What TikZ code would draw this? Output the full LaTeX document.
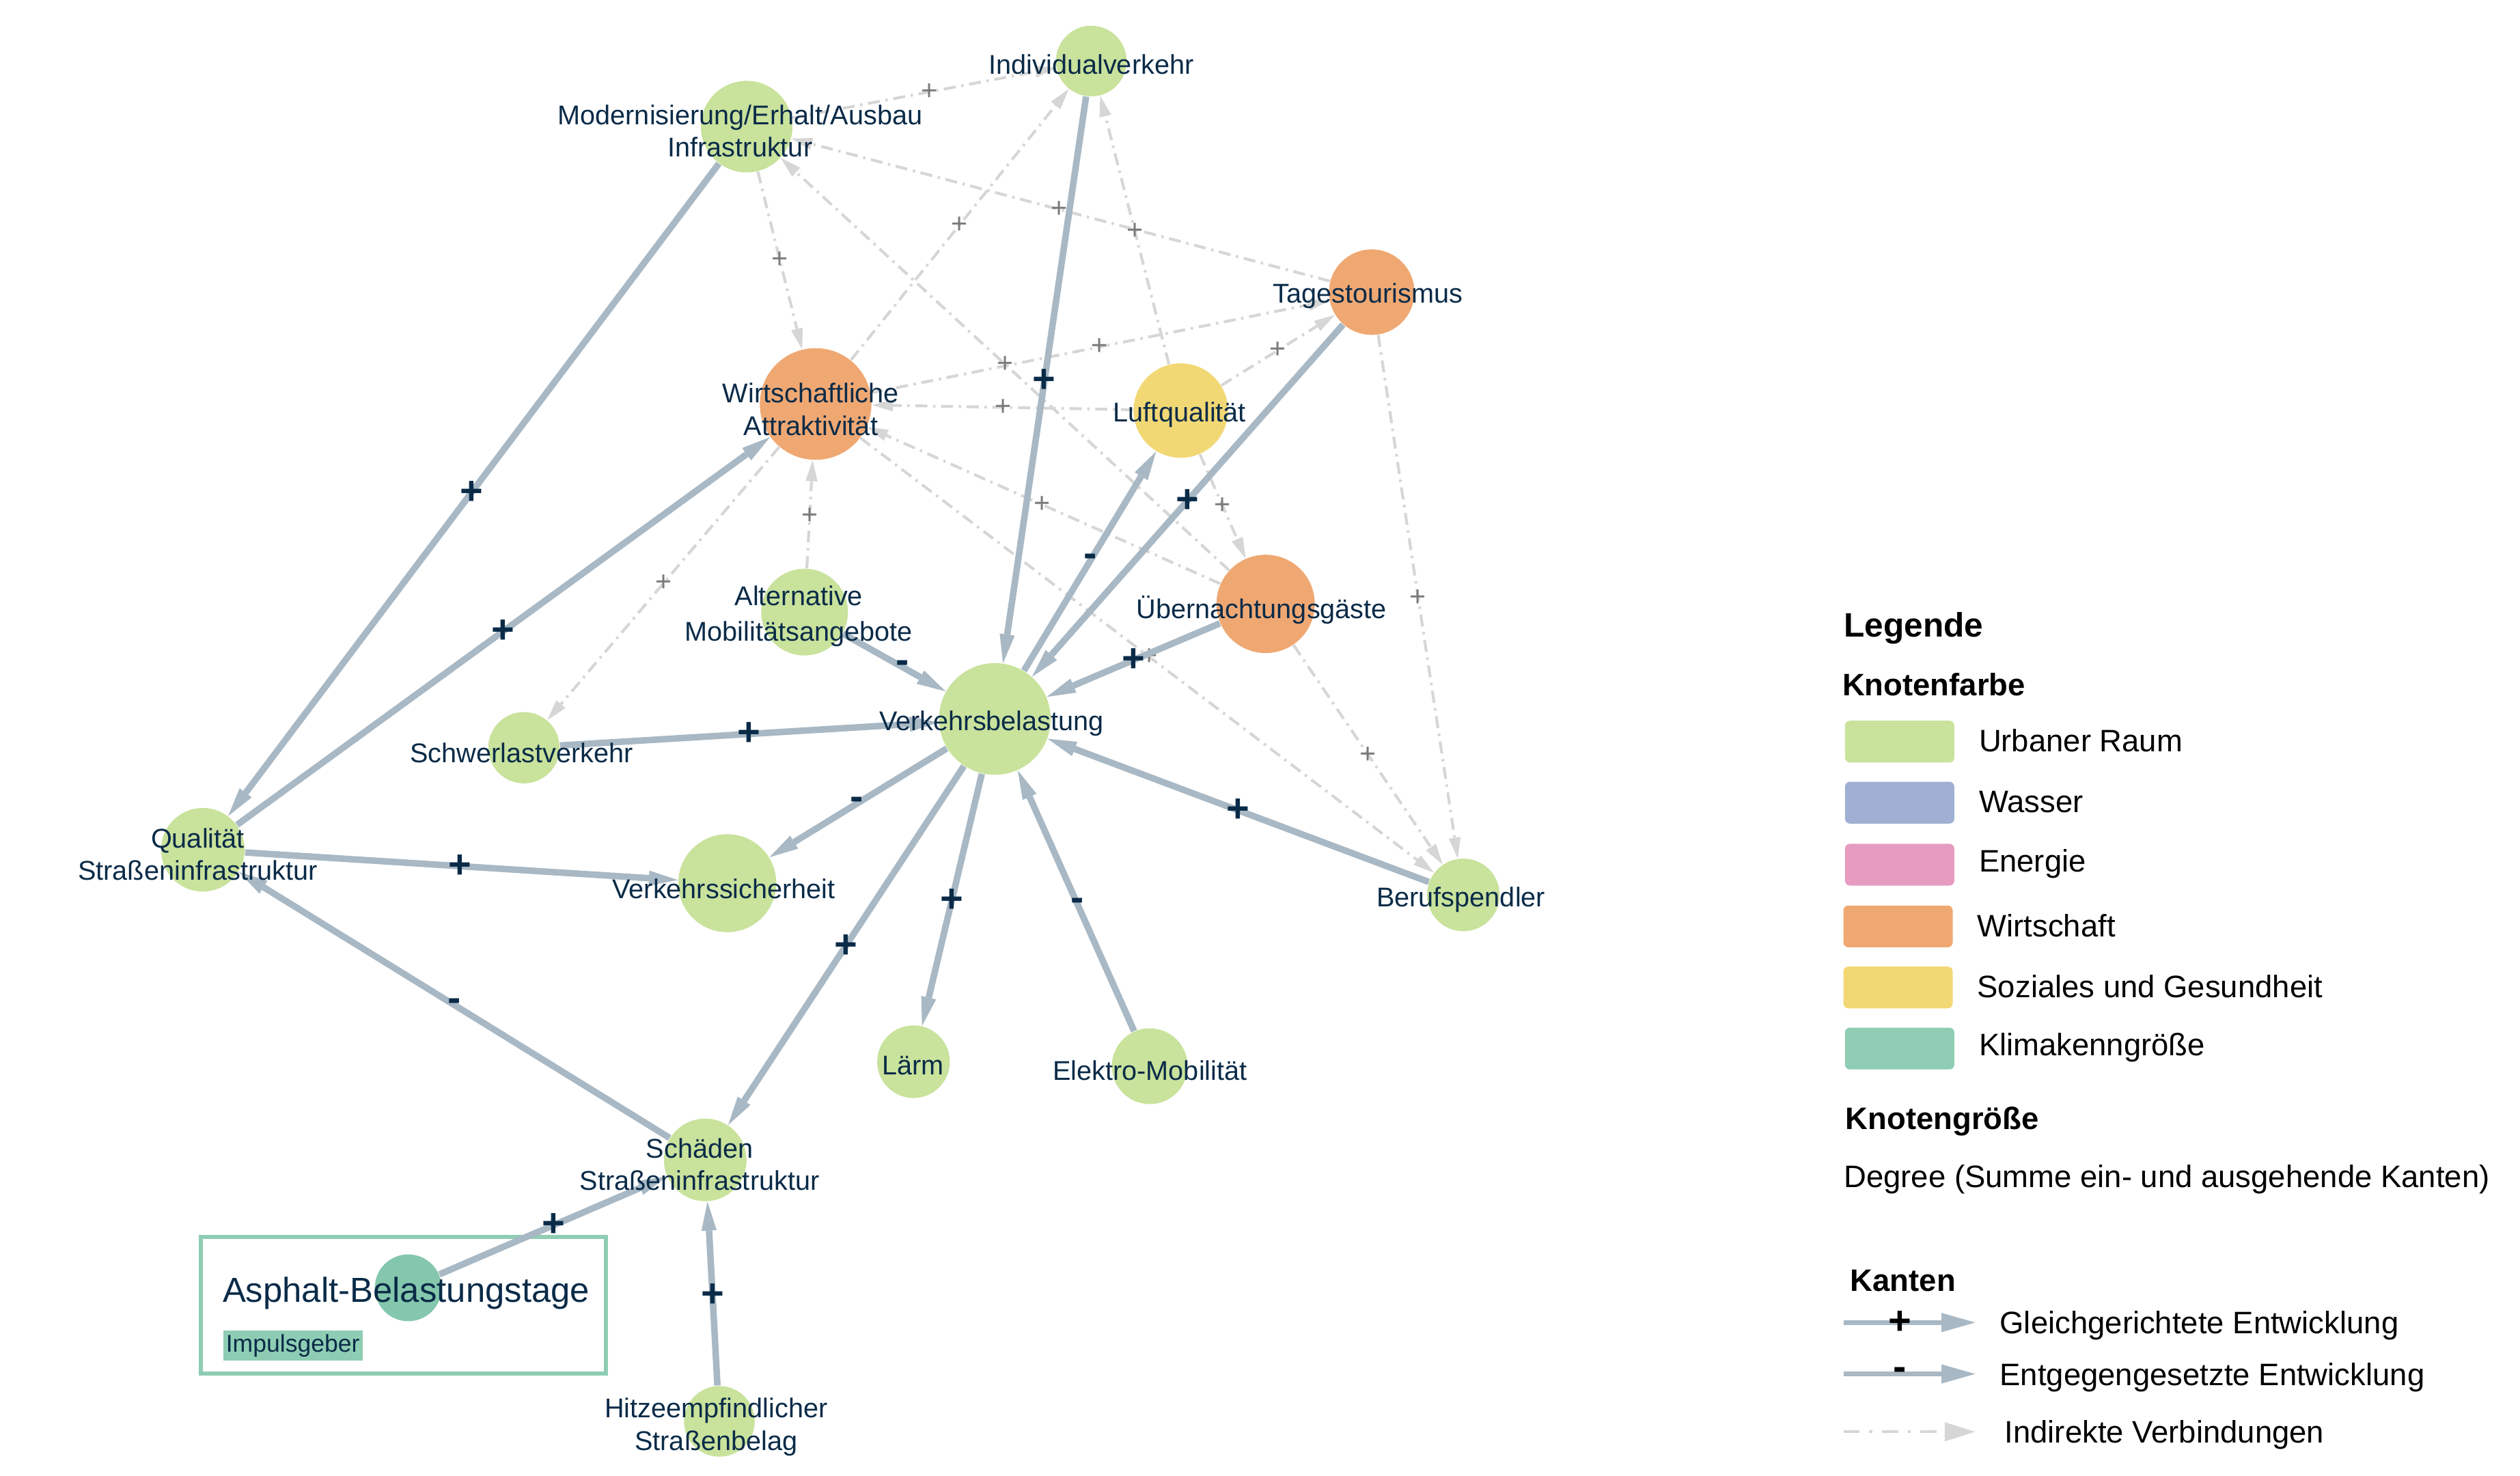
\documentclass[tikz,border=0pt]{standalone}
\usepackage{fontspec}
\setmainfont{Liberation Sans}
\usetikzlibrary{arrows.meta,calc}
\definecolor{grn}{HTML}{C9E29C}
\definecolor{org}{HTML}{F0A873}
\definecolor{yel}{HTML}{F2D875}
\definecolor{tealL}{HTML}{8ECDB3}
\definecolor{tealN}{HTML}{84C7AC}
\definecolor{blu}{HTML}{A0B0D4}
\definecolor{pnk}{HTML}{E69CC0}
\definecolor{navy}{HTML}{0A2B48}
\definecolor{edgec}{HTML}{A8B8C4}
\definecolor{dashc}{HTML}{D6D6D6}
\definecolor{grayp}{HTML}{7A7A7A}
\begin{document}
\begin{tikzpicture}[x=0.02cm, y=-0.02cm,
 circ/.style={circle, inner sep=0pt, draw=none, minimum size=#1},
 lbl/.style={text=navy, font=\fontsize{9.6}{12}\selectfont, align=center, inner sep=0pt, yshift=-0.04cm},
 sedge/.style={draw=edgec, line width=2.3pt, -{Triangle[length=0.36cm, width=0.19cm, line width=0pt]}},
 dedge/.style={draw=dashc, line width=1pt, dash pattern=on 0.15cm off 0.07cm on 0.03cm off 0.07cm, -{Triangle[length=0.26cm, width=0.15cm, line width=0pt]}},
 plus/.style={text=navy, font=\fontsize{14}{14}\selectfont\bfseries, inner sep=0pt},
 gplus/.style={text=grayp, font=\fontsize{10}{10}\selectfont, inner sep=0pt},
 legtxt/.style={anchor=west, inner sep=0pt, font=\fontsize{11}{13}\selectfont, text=black, yshift=-0.04cm},
 leghead/.style={anchor=west, inner sep=0pt, font=\fontsize{11}{13}\selectfont\bfseries, text=black, yshift=-0.04cm},
 swatch/.style={rounded corners=0.06cm, minimum width=1.36cm, minimum height=0.52cm, inner sep=0pt, draw=none, yshift=-0.05cm}
]
\useasboundingbox (0,0) rectangle (1568,918.5);

% Impulsgeber frame
\node[draw=tealL, line width=1.4pt, minimum width=5.04cm, minimum height=1.7cm, inner sep=0pt] (abox) at (251.1,812.1) {};
\node[fill=tealL, text=navy, font=\fontsize{8.6}{9}\selectfont, inner xsep=1pt, inner ysep=0pt, minimum height=0.38cm] (imp) at (182.2,837.3) {Impulsgeber};

% circles
\node[circ=0.88cm, fill=grn] (iv) at (679,38) {};
\node[circ=1.14cm, fill=grn] (mod) at (464.6,78.8) {};
\node[circ=1.064cm, fill=org] (tag) at (853.5,181.8) {};
\node[circ=1.39cm, fill=org] (wa) at (507.5,251.4) {};
\node[circ=1.176cm, fill=yel] (luft) at (734.7,255.5) {};
\node[circ=1.08cm, fill=grn] (alt) at (500.6,380.9) {};
\node[circ=1.224cm, fill=org] (ueb) at (787.5,375.8) {};
\node[circ=1.39cm, fill=grn] (vb) at (619,447.4) {};
\node[circ=0.888cm, fill=grn] (schw) at (326,465.3) {};
\node[circ=1.04cm, fill=grn] (qual) at (126.2,528.8) {};
\node[circ=1.22cm, fill=grn] (vs) at (452.5,549.6) {};
\node[circ=1.028cm, fill=grn] (schd) at (438.8,721.8) {};
\node[circ=0.832cm, fill=tealN] (asph) at (254,801.4) {};
\node[circ=0.88cm, fill=grn] (hitz) at (447.6,884.5) {};
\node[circ=0.904cm, fill=grn] (laerm) at (568.4,660.7) {};
\node[circ=0.944cm, fill=grn] (elek) at (715.4,663.5) {};
\node[circ=0.904cm, fill=grn] (beruf) at (910.5,556.9) {};

% indirect edges
\draw[dedge] (mod) -- (iv);
\draw[dedge] (wa) -- (iv);
\draw[dedge] (luft) -- (iv);
\draw[dedge] (tag) -- (mod);
\draw[dedge] (mod) -- (wa);
\draw[dedge] (ueb) -- (mod);
\draw[dedge] (wa) -- (tag);
\draw[dedge] (luft) -- (tag);
\draw[dedge] (luft) -- (wa);
\draw[dedge] (luft) -- (ueb);
\draw[dedge] (ueb) -- (wa);
\draw[dedge] (wa) -- (beruf);
\draw[dedge] (ueb) -- (beruf);
\draw[dedge] (tag) -- (beruf);
\draw[dedge] (wa) -- (schw);
\draw[dedge] (alt) -- (wa);

\node[gplus] (g1) at ($(mod)!0.53!(iv)$) {+};
\node[gplus] (g2) at ($(wa)!0.522!(iv)$) {+};
\node[gplus] (g3) at ($(luft)!0.513!(iv)$) {+};
\node[gplus] (g4) at ($(tag)!0.5!(mod)$) {+};
\node[gplus] (g5) at ($(mod)!0.48!(wa)$) {+};
\node[gplus] (g6) at ($(ueb)!0.502!(mod)$) {+};
\node[gplus] (g7) at ($(wa)!0.51!(tag)$) {+};
\node[gplus] (g8) at ($(luft)!0.508!(tag)$) {+};
\node[gplus] (g9) at ($(luft)!0.487!(wa)$) {+};
\node[gplus] (g10) at ($(luft)!0.492!(ueb)$) {+};
\node[gplus] (g11) at ($(ueb)!0.497!(wa)$) {+};
\node[gplus] (g12) at ($(wa)!0.515!(beruf)$) {+};
\node[gplus] (g13) at ($(ueb)!0.519!(beruf)$) {+};
\node[gplus] (g14) at ($(tag)!0.507!(beruf)$) {+};
\node[gplus] (g15) at ($(wa)!0.521!(schw)$) {+};
\node[gplus] (g16) at ($(alt)!0.462!(wa)$) {+};

% direct edges
\draw[sedge] (iv) -- (vb);
\draw[sedge] (mod) -- (qual);
\draw[sedge] (qual) -- (wa);
\draw[sedge] (tag) -- (vb);
\draw[sedge] (vb) -- (luft);
\draw[sedge] (ueb) -- (vb);
\draw[sedge] (alt) -- (vb);
\draw[sedge] (schw) -- (vb);
\draw[sedge] (vb) -- (vs);
\draw[sedge] (qual) -- (vs);
\draw[sedge] (vb) -- (schd);
\draw[sedge] (vb) -- (laerm);
\draw[sedge] (elek) -- (vb);
\draw[sedge] (beruf) -- (vb);
\draw[sedge] (schd) -- (qual);
\draw[sedge] (asph) -- (schd);
\draw[sedge] (hitz) -- (schd);

\node[plus] (p1) at ($(iv)!0.486!(vb)$) {+};
\node[plus] (p2) at ($(mod)!0.506!(qual)$) {+};
\node[plus] (p3) at ($(qual)!0.49!(wa)$) {+};
\node[plus] (p4) at ($(tag)!0.489!(vb)$) {+};
\node[plus] (p5) at ($(vb)!0.515!(luft)$) {-};
\node[plus] (p6) at ($(ueb)!0.489!(vb)$) {+};
\node[plus] (p7) at ($(alt)!0.515!(vb)$) {-};
\node[plus] (p8) at ($(schw)!0.478!(vb)$) {+};
\node[plus] (p9) at ($(vb)!0.516!(vs)$) {-};
\node[plus] (p10) at ($(qual)!0.491!(vs)$) {+};
\node[plus] (p11) at ($(vb)!0.515!(schd)$) {+};
\node[plus] (p12) at ($(vb)!0.53!(laerm)$) {+};
\node[plus] (p13) at ($(elek)!0.466!(vb)$) {-};
\node[plus] (p14) at ($(beruf)!0.481!(vb)$) {+};
\node[plus] (p15) at ($(schd)!0.5!(qual)$) {-};
\node[plus] (p16) at ($(asph)!0.489!(schd)$) {+};
\node[plus] (p17) at ($(hitz)!0.4825!(schd)$) {+};

% node labels
\node[lbl] (ivt) at (679,38) {Individualverkehr};
\node[lbl] (modt) at (460.5,79.7) {Modernisierung/Erhalt/Ausbau\\[-0.6pt]Infrastruktur};
\node[lbl] (tagt) at (851,182) {Tagestourismus};
\node[lbl] (wat) at (504.5,252.7) {Wirtschaftliche\\[-0.2pt]Attraktivität};
\node[lbl] (luftt) at (734,256) {Luftqualität};
\node[lbl] (altt) at (497,381.5) {Alternative\\[0.8pt]Mobilitätsangebote};
\node[lbl] (uebt) at (785,377.4) {Übernachtungsgäste};
\node[lbl] (vbt) at (617,448.4) {Verkehrsbelastung};
\node[lbl] (schwt) at (324.6,466.6) {Schwerlastverkehr};
\node[lbl] (qualt) at (123,529.6) {Qualität\\[-0.6pt]Straßeninfrastruktur};
\node[lbl] (vst) at (450.4,550.9) {Verkehrssicherheit};
\node[lbl] (schdt) at (435.3,722.7) {Schäden\\[-0.6pt]Straßeninfrastruktur};
\node[lbl] (hitzt) at (445.6,886) {Hitzeempfindlicher\\[-0.6pt]Straßenbelag};
\node[lbl] (laermt) at (568,661) {Lärm};
\node[lbl] (elekt) at (715.5,664) {Elektro-Mobilität};
\node[lbl] (beruft) at (909,558) {Berufspendler};
\node[lbl, font=\fontsize{12.3}{14}\selectfont] (asphtt) at (252.7,802.7) {Asphalt-Belastungstage};

% legend
\node[leghead, font=\fontsize{12}{14}\selectfont\bfseries] (leg) at (1147,389) {Legende};
\node[leghead] (kf) at (1146,424) {Knotenfarbe};
\node[swatch, fill=grn] (s1) at (1182,459) {};
\node[swatch, fill=blu] (s2) at (1182,497) {};
\node[swatch, fill=pnk] (s3) at (1182,535.6) {};
\node[swatch, fill=org] (s4) at (1181,574) {};
\node[swatch, fill=yel] (s5) at (1181,612) {};
\node[swatch, fill=tealL] (s6) at (1182,650) {};
\node[legtxt] (t1) at (1231,459) {Urbaner Raum};
\node[legtxt] (t2) at (1231,497) {Wasser};
\node[legtxt] (t3) at (1231,535.6) {Energie};
\node[legtxt] (t4) at (1230,574) {Wirtschaft};
\node[legtxt] (t5) at (1230,612) {Soziales und Gesundheit};
\node[legtxt] (t6) at (1231,650) {Klimakenngröße};
\node[leghead] (kg) at (1148,696) {Knotengröße};
\node[legtxt] (deg) at (1147,732) {Degree (Summe ein- und ausgehende Kanten)};
\node[leghead] (kan) at (1151,795) {Kanten};

\coordinate (k1a) at (1147,823);
\coordinate (k1b) at (1229,823);
\coordinate (k2a) at (1147,855);
\coordinate (k2b) at (1229,855);
\coordinate (k3a) at (1147,891);
\coordinate (k3b) at (1229,891);
\draw[draw=edgec, line width=1.8pt, -{Triangle[length=0.42cm, width=0.24cm, line width=0pt]}] (k1a) -- (k1b);
\draw[draw=edgec, line width=1.8pt, -{Triangle[length=0.42cm, width=0.24cm, line width=0pt]}] (k2a) -- (k2b);
\draw[draw=dashc, line width=1pt, dash pattern=on 0.2cm off 0.12cm on 0.04cm off 0.12cm, -{Triangle[length=0.38cm, width=0.24cm, line width=0pt]}] (k3a) -- (k3b);
\node[plus, text=black] (lp1) at (1182,823) {+};
\node[plus, text=black] (lp2) at (1182,855) {-};
\node[legtxt] (e1) at (1244,823) {Gleichgerichtete Entwicklung};
\node[legtxt] (e2) at (1244,855) {Entgegengesetzte Entwicklung};
\node[legtxt] (e3) at (1247,891) {Indirekte Verbindungen};
\end{tikzpicture}
\end{document}
